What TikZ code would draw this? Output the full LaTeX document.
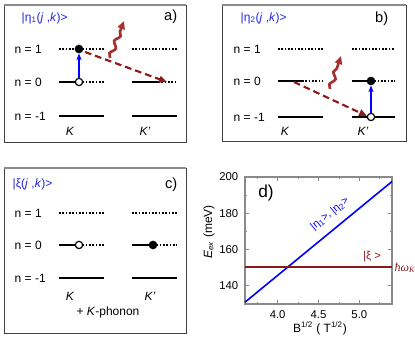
\documentclass[tikz,border=0pt]{standalone}
\usepackage{fontspec}
\setmainfont{Liberation Sans}
\newfontfamily\serifit{Liberation Serif}
\usetikzlibrary{decorations.pathmorphing,arrows.meta}
\definecolor{dred}{HTML}{8B1A1A}
\definecolor{wred}{HTML}{A53030}
\definecolor{framegray}{HTML}{8A8A8A}
\definecolor{tblue}{HTML}{2424E0}
\tikzset{
 lvl/.style={line width=1.5pt},
 dotlvl/.style={line width=1.1pt, dash pattern=on 1.2pt off 1.3pt},
 fdot/.style={circle, fill=black, inner sep=0pt, minimum size=6.5pt},
 odot/.style={circle, draw=black, fill=white, line width=0.9pt, inner sep=0pt, minimum size=5.5pt},
 exc/.style={-{Stealth[length=5pt,width=4pt]}, blue, line width=1.1pt, shorten <=-0.5pt},
 phon/.style={dred, line width=1.6pt, dash pattern=on 5pt off 3pt, -{Triangle[length=6pt,width=5pt]}},
 wave/.style={wred, line width=2pt, decoration={snake, amplitude=1.6pt, segment length=10pt, post length=6pt}, decorate, -{Triangle[length=6pt,width=5.5pt]}},
 nlab/.style={anchor=west, font=\fontsize{9}{10}\selectfont},
 klab/.style={font=\fontsize{9}{10}\selectfont\itshape},
 ttl/.style={anchor=west, text=tblue, font=\fontsize{9}{10}\selectfont},
 plab/.style={anchor=east, font=\fontsize{11}{12}\selectfont},
 frame/.style={draw=black!75, line width=0.7pt},
 frametop/.style={draw=framegray, line width=1.5pt},
 tick/.style={draw=framegray, line width=0.6pt},
 ticklab/.style={font=\fontsize{8.5}{9}\selectfont},
}
\begin{document}
\begin{tikzpicture}[x=0.75pt,y=-0.75pt]
\useasboundingbox (0,0) rectangle (415,341);

% ---------------- panel a ----------------
\draw[frame] (4,5) rectangle (186,142);
\draw[frametop] (4,5) -- (186,5);
\node[ttl] (ta) at (17,18) {|η\textsubscript{1}(\textit{j} ,\textit{k})>};
\node[plab] (la) at (182,17) {a)};
\node[nlab] (na1) at (10,49) {n = 1};
\node[nlab] (na0) at (10,82) {n = 0};
\node[nlab] (nam) at (10,116) {n = -1};
\draw[dotlvl] (59,49) -- (104,49);
\draw[dotlvl] (132,49) -- (177,49);
\draw[lvl] (59,82) -- (79,82);
\draw[dotlvl] (79,82) -- (104,82);
\draw[lvl] (132,82) -- (158,82);
\draw[dotlvl] (158,82) -- (177,82);
\draw[lvl] (59,116) -- (104,116);
\draw[lvl] (132,116) -- (177,116);
\node[fdot] (af) at (79,49) {};
\node[odot] (ao) at (79,82) {};
\draw[exc] (ao) -- (af);
\coordinate (aps) at (85,52);
\coordinate (ape) at (167,82);
\draw[phon] (aps) -- (ape);
\coordinate (aws) at (110,58);
\coordinate (awe) at (124,21);
\draw[wave] (aws) -- (awe);
\node[klab] (ka) at (70,131) {K};
\node[klab] (kpa) at (145,131) {K'};

% ---------------- panel b ----------------
\draw[frame] (222,5) rectangle (406,141);
\draw[frametop] (222,5) -- (406,5);
\node[ttl] (tb) at (236,18) {|η\textsubscript{2}(\textit{j} ,\textit{k})>};
\node[plab] (lb) at (393,19) {b)};
\node[nlab] (nb1) at (229,49) {n = 1};
\node[nlab] (nb0) at (229,81) {n = 0};
\node[nlab] (nbm) at (229,117) {n = -1};
\draw[dotlvl] (278,49) -- (323,49);
\draw[dotlvl] (352,49) -- (395,49);
\draw[lvl] (278,81) -- (302,81);
\draw[dotlvl] (302,81) -- (323,81);
\draw[lvl] (352,81) -- (371,81);
\draw[dotlvl] (371,81) -- (395,81);
\draw[lvl] (278,117) -- (323,117);
\draw[lvl] (352,117) -- (395,117);
\node[fdot] (bf) at (371,81) {};
\node[odot] (bo) at (371,117) {};
\draw[exc] (bo) -- (bf);
\coordinate (bps) at (294,82);
\coordinate (bpe) at (367,116);
\draw[phon] (bps) -- (bpe);
\coordinate (bws) at (330,89);
\coordinate (bwe) at (341,56);
\draw[wave] (bws) -- (bwe);
\node[klab] (kb) at (285,131) {K};
\node[klab] (kpb) at (363,131) {K'};

% ---------------- panel c ----------------
\draw[frame] (4,168) rectangle (186,333);
\draw[frametop] (4,168) -- (186,168);
\node[ttl] (tc) at (8,184) {|ξ(\textit{j} ,\textit{k})>};
\node[plab] (lc) at (182,185) {c)};
\node[nlab] (nc1) at (10,213) {n = 1};
\node[nlab] (nc0) at (10,245) {n = 0};
\node[nlab] (ncm) at (10,278) {n = -1};
\draw[dotlvl] (59,213) -- (104,213);
\draw[dotlvl] (132,213) -- (177,213);
\draw[lvl] (59,245) -- (79,245);
\draw[dotlvl] (79,245) -- (104,245);
\draw[lvl] (132,245) -- (153,245);
\draw[dotlvl] (153,245) -- (177,245);
\draw[lvl] (59,278) -- (104,278);
\draw[lvl] (132,278) -- (177,278);
\node[odot] (co) at (79,245) {};
\node[fdot] (cf) at (153,245) {};
\node[klab] (kc) at (70,296) {K};
\node[klab] (kpc) at (150,296) {K'};
\node[font=\fontsize{9}{10}\selectfont] (phc) at (108,312) {+ \textit{K}-phonon};

% ---------------- panel d ----------------
% x: 3.6 -> 245, 5.4 -> 392 ; y: 200 -> 177, 130 -> 304
\foreach \x in {277.67,318.5,359.33} {
  \draw[tick] (\x,304) -- (\x,300);
  \draw[tick] (\x,177) -- (\x,181);
}
\foreach \x in {257.25,298.08,338.92,379.75} {
  \draw[tick] (\x,304) -- (\x,302);
  \draw[tick] (\x,177) -- (\x,179);
}
\foreach \y in {177,213.29,249.57,285.86} {
  \draw[tick] (245,\y) -- (249,\y);
  \draw[tick] (392,\y) -- (388,\y);
}
\foreach \y in {195.14,231.43,267.71} {
  \draw[tick] (245,\y) -- (247,\y);
  \draw[tick] (392,\y) -- (390,\y);
}
\draw[draw=framegray, line width=0.8pt] (245,177) rectangle (392,304);
\node[ticklab, anchor=east] (y200) at (243,177) {200};
\node[ticklab, anchor=east] (y180) at (243,213.29) {180};
\node[ticklab, anchor=east] (y160) at (243,249.57) {160};
\node[ticklab, anchor=east] (y140) at (243,285.86) {140};
\node[ticklab, anchor=north] (x40) at (277.67,306) {4.0};
\node[ticklab, anchor=north] (x45) at (318.5,306) {4.5};
\node[ticklab, anchor=north] (x50) at (359.33,306) {5.0};
\node[font=\fontsize{9}{10}\selectfont] (xl) at (320,328) {B\textsuperscript{1/2} ( T\textsuperscript{1/2})};
\coordinate (bl1) at (245,302.2);
\coordinate (bl2) at (392,181.5);
\draw[blue, line width=1.2pt] (bl1) -- (bl2);
\coordinate (rl1) at (245,267.2);
\coordinate (rl2) at (392,267.2);
\draw[dred, line width=1.6pt] (rl1) -- (rl2);
\node[inner sep=0pt, font=\fontsize{9}{10}\selectfont] (yl) at (209,232) {\rotatebox{90}{\textit{E}\textsubscript{\textit{ex}} (meV)}};
\node[inner sep=0pt, text=blue, font=\fontsize{8}{9}\selectfont] (etl) at (330,214) {\rotatebox{39.4}{|η\textsubscript{1}>, |η\textsubscript{2}>}};
\node[text=dred, font=\fontsize{8.5}{9}\selectfont] (xil) at (372,257) {|ξ >};
\node[text=dred, anchor=west, inner sep=1pt, font=\fontsize{9}{10}\selectfont] (hw) at (393,268) {{\serifit\itshape ħω\textsubscript{K}}};
\node[font=\fontsize{13}{14}\selectfont] (ld) at (266,193) {d)};
\end{tikzpicture}
\end{document}
